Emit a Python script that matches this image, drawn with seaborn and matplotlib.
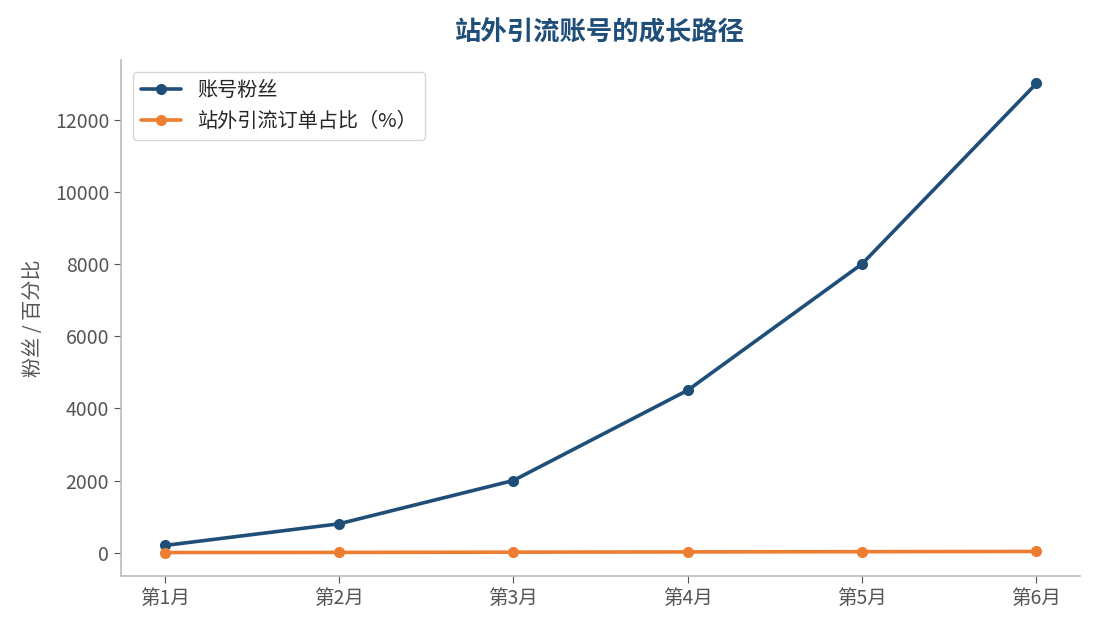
import pandas as pd
import matplotlib.pyplot as plt
import seaborn as sns

# Chart data
months = ["第1月", "第2月", "第3月", "第4月", "第5月", "第6月"]
fans = [200, 800, 2000, 4500, 8000, 13000]
order_share = [5, 8, 15, 22, 28, 35]

df = pd.DataFrame({
    "月份": months * 2,
    "数值": fans + order_share,
    "系列": ["账号粉丝"] * 6 + ["站外引流订单占比（%）"] * 6,
})

sns.set_style("white")
plt.rcParams['font.family'] = ['Noto Sans CJK SC', 'DejaVu Sans']
plt.rcParams['axes.unicode_minus'] = False

fig = plt.figure(figsize=(10.95, 6.29), dpi=100)
ax = fig.add_axes([0.1105, 0.0843, 0.8758, 0.8203])

sns.lineplot(data=df, x="月份", y="数值", hue="系列", marker="o",
             palette={"账号粉丝": "#1F4E79", "站外引流订单占比（%）": "#ED7D31"},
             linewidth=2.6, markersize=8, markeredgewidth=0, ax=ax)

ax.set_title("站外引流账号的成长路径", fontsize=19, fontweight="bold",
             color="#1F4E79", pad=14)
ax.set_xlabel("")
ax.set_ylabel("粉丝 / 百分比", fontsize=14.5, color="#555555", labelpad=8)
ax.tick_params(axis="both", labelsize=14, colors="#555555", length=5,
               left=True, bottom=True)
for side in ["top", "right"]:
    ax.spines[side].set_visible(False)
for side in ["left", "bottom"]:
    ax.spines[side].set_color("#BBBBBB")
    ax.spines[side].set_linewidth(1.2)

leg = ax.legend(loc="upper left", fontsize=14.5, frameon=True,
                borderaxespad=0.6)
leg.get_frame().set_edgecolor("#CCCCCC")

plt.savefig("out.png", dpi=100)
